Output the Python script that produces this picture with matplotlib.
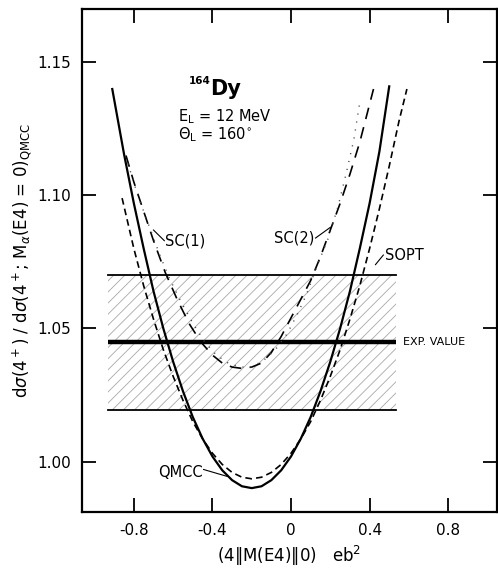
import matplotlib
matplotlib.use("Agg")
import matplotlib.pyplot as plt

# ---- data ----
qmcc_x = [-0.91, -0.85, -0.80, -0.75, -0.70, -0.65, -0.60, -0.55, -0.50, -0.45, -0.40, -0.35, -0.30,
          -0.25, -0.20, -0.15, -0.10, -0.05, 0.00, 0.05, 0.10, 0.15, 0.20, 0.25, 0.30, 0.35, 0.40,
          0.45, 0.50]
qmcc_y = [1.140, 1.1155, 1.097, 1.080, 1.064, 1.050, 1.0375, 1.0264, 1.0167, 1.0086, 1.0019, 0.9967,
          0.993, 0.9907, 0.990, 0.9907, 0.993, 0.9967, 1.0019, 1.0086, 1.0167, 1.0264, 1.0375, 1.050,
          1.064, 1.080, 1.097, 1.1165, 1.141]

sopt_x = [-0.86, -0.80, -0.75, -0.70, -0.65, -0.60, -0.55, -0.50, -0.45, -0.40, -0.35, -0.30, -0.25,
          -0.20, -0.15, -0.10, -0.05, 0.00, 0.05, 0.10, 0.15, 0.20, 0.25, 0.30, 0.35, 0.40, 0.45,
          0.50, 0.55, 0.59]
sopt_y = [1.099, 1.080, 1.066, 1.0535, 1.042, 1.032, 1.023, 1.015, 1.0085, 1.0031, 0.9989, 0.9959,
          0.9941, 0.9935, 0.9941, 0.9959, 0.9989, 1.0031, 1.0085, 1.015, 1.023, 1.032, 1.042, 1.0535,
          1.066, 1.080, 1.095, 1.111, 1.128, 1.140]

sc1_x = [-0.84, -0.80, -0.75, -0.70, -0.64, -0.58, -0.52, -0.46, -0.40, -0.35, -0.30, -0.25, -0.20,
         -0.15, -0.10, -0.05, 0.00, 0.05, 0.10, 0.15, 0.20, 0.25, 0.30, 0.35, 0.42]
sc1_y = [1.115, 1.105, 1.094, 1.083, 1.071, 1.061, 1.052, 1.045, 1.040, 1.037, 1.0355, 1.035, 1.0355,
         1.037, 1.041, 1.047, 1.054, 1.061, 1.068, 1.077, 1.087, 1.097, 1.108, 1.120, 1.140]

sc2_x = [-0.83, -0.78, -0.72, -0.67, -0.62, -0.56, -0.50, -0.44, -0.38, -0.32, -0.26, -0.20, -0.14,
         -0.08, -0.02, 0.03, 0.08, 0.13, 0.19, 0.24, 0.28, 0.32, 0.35]
sc2_y = [1.112, 1.100, 1.088, 1.078, 1.069, 1.060, 1.052, 1.045, 1.040, 1.037, 1.0355, 1.0355, 1.038,
         1.042, 1.048, 1.055, 1.063, 1.073, 1.084, 1.096, 1.108, 1.121, 1.135]

exp_value = 1.045
exp_low, exp_high = 1.0195, 1.070
exp_x = [-0.93, 0.535]

xticks = [-0.8, -0.4, 0, 0.4, 0.8]
xticklabels = ["-0.8", "-0.4", "0", "0.4", "0.8"]
yticks = [1.00, 1.05, 1.10, 1.15]
yticklabels = ["1.00", "1.05", "1.10", "1.15"]

plt.rcParams["hatch.linewidth"] = 0.6

fig = plt.figure(figsize=(4.98, 5.76), dpi=100)
ax = fig.add_axes([0.1647, 0.111, 0.833, 0.873])

# -------------------------------
# EXPERIMENTAL BAND
# -------------------------------
ax.fill_between(exp_x, exp_low, exp_high, facecolor="none", edgecolor="#a8a8a8",
                hatch="///", linewidth=0)
ax.plot(exp_x, [exp_high] * 2, color="black", lw=1.3)
ax.plot(exp_x, [exp_low] * 2, color="black", lw=1.3)
ax.plot(exp_x, [exp_value] * 2, color="black", lw=3.2, solid_capstyle="butt")

# -------------------------------
# CURVES
# -------------------------------
ax.plot(qmcc_x, qmcc_y, color="black", lw=1.6)
ax.plot(sopt_x, sopt_y, color="black", lw=1.2, dashes=(4, 2.5))
ax.plot(sc1_x, sc1_y, color="black", lw=1.2, dashes=(7, 5))
ax.plot(sc2_x, sc2_y, color="#444444", lw=1.0, dashes=(0.8, 5))

# -------------------------------
# LABELS
# -------------------------------
ax.text(-0.64, 1.083, "SC(1)", fontsize=10.5, va="center", ha="left")
ax.plot([-0.645, -0.70], [1.083, 1.087], color="black", lw=0.8)
ax.text(0.12, 1.084, "SC(2)", fontsize=10.5, va="center", ha="right")
ax.plot([0.125, 0.20], [1.084, 1.088], color="black", lw=0.8)
ax.text(0.48, 1.0776, "SOPT", fontsize=10.5, va="center", ha="left")
ax.plot([0.43, 0.47], [1.074, 1.0776], color="black", lw=0.8)
ax.text(-0.45, 0.996, "QMCC", fontsize=10.5, va="center", ha="right")
ax.plot([-0.445, -0.325], [0.997, 0.9944], color="black", lw=0.8)
ax.text(0.57, exp_value, "EXP. VALUE", fontsize=8, va="center", ha="left")

ax.text(-0.52, 1.143, "164", fontsize=7.5, va="center", ha="left", fontweight="bold")
ax.text(-0.41, 1.140, "Dy", fontsize=15, va="center", ha="left", fontweight="bold")
ax.text(-0.575, 1.1297, r"E$_{\rm L}$ = 12 MeV", fontsize=10.5, va="center", ha="left")
ax.text(-0.575, 1.123, r"$\Theta_{\rm L}$ = 160$^{\circ}$", fontsize=10.5, va="center", ha="left")

ax.set_xlim(-1.064, 1.048)
ax.set_ylim(0.981, 1.170)
ax.set_xticks(xticks)
ax.set_xticklabels(xticklabels, fontsize=11)
ax.set_yticks(yticks)
ax.set_yticklabels(yticklabels, fontsize=11)
ax.tick_params(direction="in", length=10, width=1.3, top=True, right=True, pad=8)
for s in ax.spines.values():
    s.set_linewidth(1.6)

ax.set_xlabel(r"(4$\Vert$M(E4)$\Vert$0)   eb$^2$", fontsize=12, labelpad=4)
ax.set_ylabel(r"d$\sigma$(4$^+$) / d$\sigma$(4$^+$; M$_{\alpha}$(E4) = 0)$_{\rm QMCC}$",
              fontsize=12, labelpad=2)

fig.savefig("out.png", dpi=100)
